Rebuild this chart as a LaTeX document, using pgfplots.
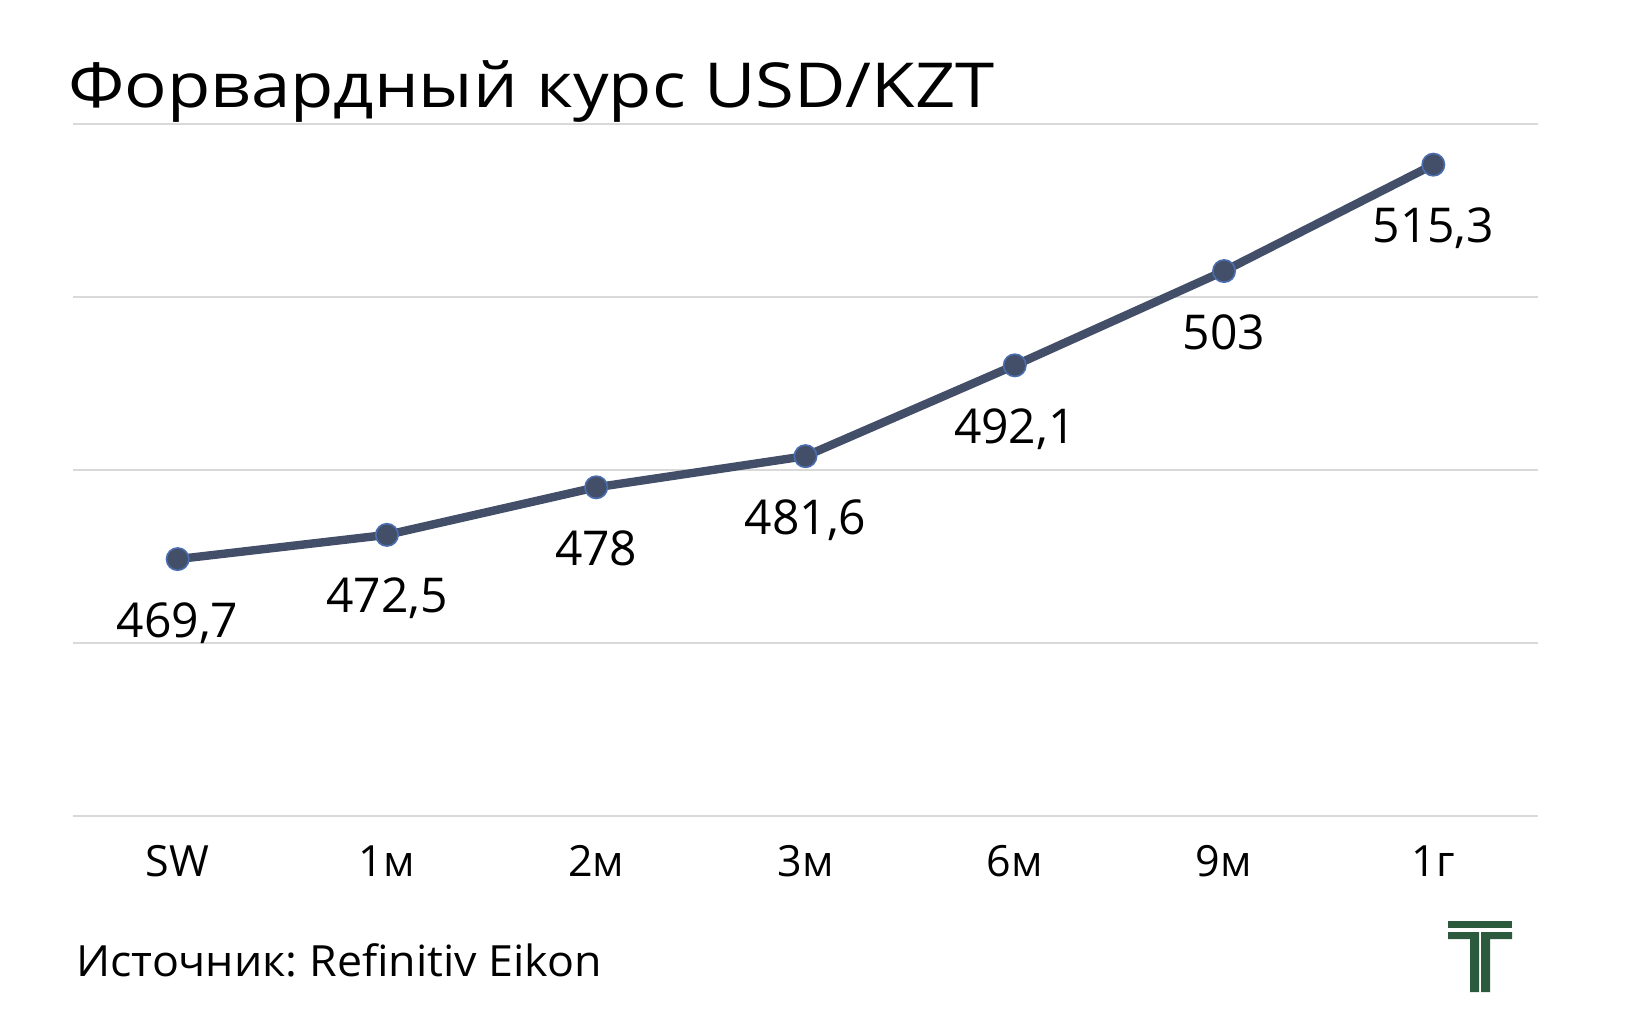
\documentclass[border=0pt]{standalone}
\usepackage{fontspec}
\setmainfont{Open Sans}
\usepackage{pgfplots}
\pgfplotsset{compat=1.18}
\definecolor{linec}{HTML}{434F68}
\definecolor{markedge}{HTML}{4A6EB0}
\definecolor{gridc}{HTML}{D9D9D9}
\definecolor{logoc}{HTML}{2C5A3C}
\frenchspacing
\begin{document}
\begin{tikzpicture}
\path[use as bounding box] (0,0) rectangle (817.5pt,517.5pt);
\begin{axis}[
  at={(36.5pt,109.5pt)}, anchor=south west,
  scale only axis, width=732.5pt, height=346pt,
  xmin=-0.5, xmax=6.5, ymin=440, ymax=520,
  axis line style={draw=none},
  ytick={440,460,480,500,520}, yticklabels={},
  ymajorgrids, grid style={gridc, line width=1pt},
  major tick length=0pt,
  xtick={0,1,2,3,4,5,6},
  xticklabels={SW,1м,2м,3м,6м,9м,1г},
  xticklabel style={font=\fontsize{21.5}{24}\selectfont, anchor=base, yshift=-30pt},
  clip=false,
  nodes near coords,
  point meta=explicit symbolic,
  every node near coord/.append style={font=\fontsize{24}{28}\selectfont, anchor=base, yshift=-39pt, text=black},
]
\addplot[linec, line width=4.2pt, mark=*, mark size=5.6pt,
  mark options={fill=linec, draw=markedge, line width=0.8pt}]
  table[meta=label] {
x y label
0 469.7 469,7
1 472.5 472,5
2 478 478
3 481.6 481,6
4 492.1 492,1
5 503 503
6 515.3 515,3
};
\end{axis}
\node[anchor=base west, inner sep=0pt, font=\fontsize{31}{36}\selectfont] at (34pt,463.5pt) {\scalebox{1.14}[1]{Форвардный курс USD/KZT}};
\node[anchor=base west, inner sep=0pt, font=\fontsize{21.5}{24}\selectfont] at (38pt,29.5pt) {\scalebox{1.04}[1]{Источник: Refinitiv Eikon}};
\fill[logoc] (724pt,57pt) rectangle (756pt,53.5pt);
\fill[logoc] (724pt,51.5pt) -- (739.5pt,51.5pt) -- (739.5pt,21.5pt) -- (735pt,21.5pt) -- (735pt,48pt) -- (724pt,48pt) -- cycle;
\fill[logoc] (740.5pt,51.5pt) -- (756pt,51.5pt) -- (756pt,48pt) -- (745pt,48pt) -- (745pt,21.5pt) -- (740.5pt,21.5pt) -- cycle;
\end{tikzpicture}
\end{document}
